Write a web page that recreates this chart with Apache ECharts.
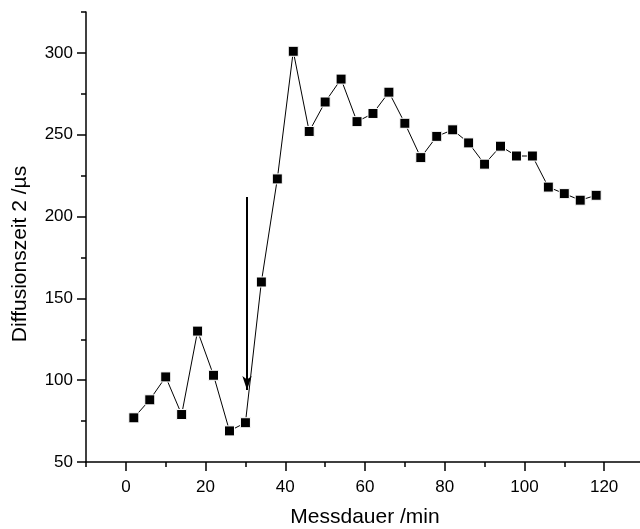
<!DOCTYPE html>
<html>
<head>
<meta charset="utf-8">
<script src="https://cdn.jsdelivr.net/npm/echarts@6/dist/echarts.min.js"></script>
<style>
html,body{margin:0;padding:0;background:#fff;}
#chart{width:640px;height:529px;}
</style>
</head>
<body>
<div id="chart"></div>
<script>
var xValues = [2,6,10,14,18,22,26,30,34,38,42,46,50,54,58,62,66,70,74,78,82,86,90,94,98,102,106,110,114,118];
var yValues = [77,88,102,79,130,103,69,74,160,223,301,252,270,284,258,263,276,257,236,249,253,245,232,243,237,237,218,214,210,213];
var xMajorTicks = [0,20,40,60,80,100,120];
var xMinorTicks = [-10,10,30,50,70,90,110,130];
var yMajorTicks = [50,100,150,200,250,300];
var yMinorTicks = [75,125,175,225,275,325];
var arrowLine = [[30.4,212],[30.4,94]];
var xTitle = 'Messdauer /min';
var yTitle = 'Diffusionszeit 2 /\u00b5s';

var font = 'Liberation Sans, Arial, sans-serif';
var data = xValues.map(function(x,i){return [x,yValues[i]];});

var chart = echarts.init(document.getElementById('chart'), null, {renderer:'canvas'});
chart.setOption({
  animation:false,
  backgroundColor:'#fff',
  grid:{left:86, right:-4, top:12, bottom:67, containLabel:false, outerBoundsMode:'none'},
  xAxis:[{
    type:'value', min:-10, max:130, position:'bottom',
    axisLine:{show:true, onZero:false, lineStyle:{color:'#000', width:1.5}},
    axisTick:{show:true, inside:false, length:9, customValues:xMajorTicks, lineStyle:{color:'#000', width:1.5}},
    axisLabel:{show:true, customValues:xMajorTicks, margin:17, color:'#000', fontSize:17, fontFamily:font},
    splitLine:{show:false},
    name:xTitle, nameLocation:'middle', nameGap:45,
    nameTextStyle:{color:'#000', fontSize:21, fontFamily:font}
  },{
    type:'value', min:-10, max:130, position:'bottom',
    axisLine:{show:false, onZero:false},
    axisTick:{show:true, inside:false, length:5, customValues:xMinorTicks, lineStyle:{color:'#000', width:1.5}},
    axisLabel:{show:false},
    splitLine:{show:false}
  }],
  yAxis:[{
    type:'value', min:50, max:325, position:'left',
    axisLine:{show:true, onZero:false, lineStyle:{color:'#000', width:1.5}},
    axisTick:{show:true, inside:false, length:9, customValues:yMajorTicks, lineStyle:{color:'#000', width:1.5}},
    axisLabel:{show:true, customValues:yMajorTicks, margin:13, color:'#000', fontSize:17, fontFamily:font},
    splitLine:{show:false},
    name:yTitle, nameLocation:'middle', nameGap:55, nameRotate:90,
    nameTextStyle:{color:'#000', fontSize:21, fontFamily:font, padding:[0,34,0,0]}
  },{
    type:'value', min:50, max:325, position:'left',
    axisLine:{show:false, onZero:false},
    axisTick:{show:true, inside:false, length:5, customValues:yMinorTicks, lineStyle:{color:'#000', width:1.5}},
    axisLabel:{show:false},
    splitLine:{show:false}
  }],
  series:[{
    type:'line',
    data:data,
    xAxisIndex:0, yAxisIndex:0,
    symbol:'rect', symbolSize:10,
    showAllSymbol:true,
    lineStyle:{color:'#000', width:1},
    itemStyle:{color:'#000', borderColor:'#fff', borderWidth:1},
    markLine:{
      silent:true,
      symbol:['none','arrow'],
      symbolSize:12,
      label:{show:false},
      lineStyle:{color:'#000', width:2, type:'solid'},
      data:[[
        {coord:arrowLine[0], symbol:'none'},
        {coord:arrowLine[1], symbol:'arrow', symbolSize:[7,14]}
      ]]
    }
  }]
});
</script>
</body>
</html>
